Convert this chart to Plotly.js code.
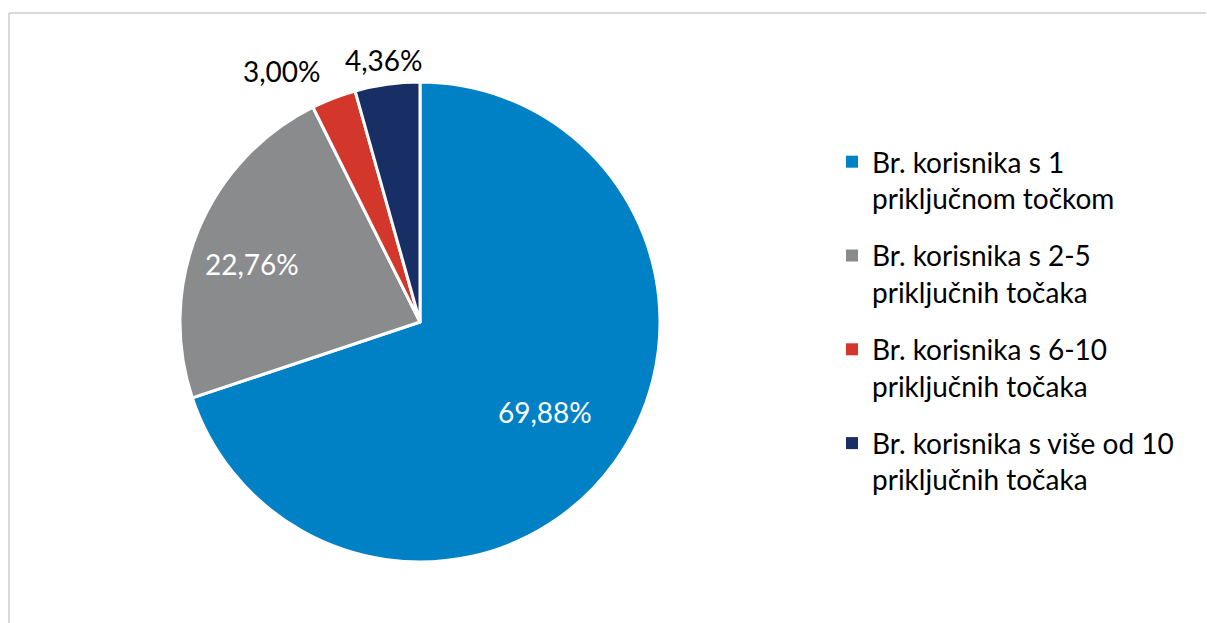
<!DOCTYPE html>
<html><head><meta charset="utf-8">
<script src="https://cdn.plot.ly/plotly-3.0.1.min.js"></script>
<style>html,body{margin:0;padding:0;background:#fff}#chart{width:1207px;height:623px}</style>
</head><body><div id="chart"></div>
<script>
const categories = [
  "Br. korisnika s 1<br>priključnom točkom",
  "Br. korisnika s 2-5<br>priključnih točaka",
  "Br. korisnika s 6-10<br>priključnih točaka",
  "Br. korisnika s više od 10<br>priključnih točaka"
];
const values = [69.88, 22.76, 3.00, 4.36];
const colors = ['#0081C6', '#8A8B8D', '#D3372C', '#182F66'];
const labelText = values.map(v => v.toFixed(2).replace('.', ',') + '%');

const W = 1207, H = 623;
const FONT = 'Lato, sans-serif';
// pie geometry (pixels)
const CX = 420, CY = 322, R = 240;

const pie = {
  type: 'pie',
  labels: categories,
  values: values,
  textinfo: 'none',
  sort: false,
  direction: 'clockwise',
  rotation: 0,
  marker: {colors: colors, line: {color: '#ffffff', width: 3}},
  domain: {x: [(CX - R) / W, (CX + R) / W], y: [1 - (CY + R) / H, 1 - (CY - R) / H]},
  hoverinfo: 'none',
  showlegend: false
};
// legend entries (one per slice)
const legendTraces = categories.map((c, i) => ({
  type: 'scatter', mode: 'markers', x: [null], y: [null],
  name: c, legendgroup: 'g' + i,
  marker: {symbol: 'square', size: 12, color: colors[i]},
  hoverinfo: 'none'
}));

// data label placement from slice mid-angles
const total = values.reduce((a, b) => a + b, 0);
const radFactor = [0.64, 0.74, 1.12, 1.1];
const angleShift = [0, -0.06, 0, 0];
const anchors = ['center', 'center', 'right', 'center'];
const labelColor = ['#ffffff', '#ffffff', '#000000', '#000000'];
let cum = 0;
const annotations = values.map((v, i) => {
  const mid = (cum + v / 2) / total * 2 * Math.PI + angleShift[i]; cum += v;
  const r = R * radFactor[i];
  const px = CX + r * Math.sin(mid), py = CY - r * Math.cos(mid);
  return {xref: 'paper', yref: 'paper', x: px / W, y: 1 - py / H,
          text: labelText[i], showarrow: false, xanchor: anchors[i], yanchor: 'middle',
          font: {family: FONT, size: 28, color: labelColor[i]}};
});

const layout = {
  width: W, height: H,
  margin: {l: 0, r: 0, t: 0, b: 0},
  paper_bgcolor: '#ffffff', plot_bgcolor: 'rgba(0,0,0,0)',
  font: {family: FONT, color: '#000000', size: 28},
  xaxis: {visible: false}, yaxis: {visible: false},
  showlegend: true,
  legend: {x: 832 / W, y: 1 - 137 / H, xanchor: 'left', yanchor: 'top', valign: 'top',
           font: {family: FONT, size: 28, color: '#000'}, itemwidth: 30,
           tracegroupgap: 18, traceorder: 'grouped', bgcolor: 'rgba(0,0,0,0)'},
  annotations: annotations,
  shapes: [
    {type: 'line', xref: 'paper', yref: 'paper', x0: 9 / W, x1: 9 / W, y0: 0, y1: 1 - 13 / H, line: {color: '#D9D9D9', width: 2}},
    {type: 'line', xref: 'paper', yref: 'paper', x0: 9 / W, x1: 1206 / W, y0: 1 - 13 / H, y1: 1 - 13 / H, line: {color: '#D9D9D9', width: 2}}
  ]
};
Plotly.newPlot('chart', [pie].concat(legendTraces), layout, {displayModeBar: false, staticPlot: true});
</script></body></html>
